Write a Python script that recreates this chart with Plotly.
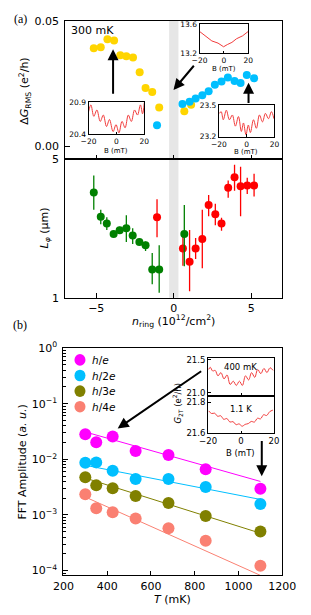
import math
import plotly.graph_objects as go

# ---------------- panel (a), top: Delta G_RMS vs n_ring ----------------
n_yellow = [-5.16, -4.71, -4.28, -3.85, -3.45, -3.06, -2.63, -2.20, -1.82, -1.39, -0.94, 0.68, 1.12]
dg_yellow = [0.0391, 0.0395, 0.0426, 0.0421, 0.0363, 0.0359, 0.0354, 0.0295, 0.0233, 0.0217, 0.0155, 0.0140, 0.0166]
n_cyan = [-1.08, 0.56, 1.02, 1.41, 1.84, 2.25, 2.65, 3.08, 3.49, 3.92, 4.31, 4.71, 5.18]
dg_cyan = [0.0085, 0.0169, 0.0178, 0.0191, 0.0204, 0.0220, 0.0246, 0.0259, 0.0274, 0.0261, 0.0253, 0.0284, 0.0271]

# ---------------- panel (a), bottom: L_phi vs n_ring ----------------
n_green = [-5.16, -4.71, -4.32, -3.88, -3.49, -3.06, -2.65, -2.22, -1.82, -1.39, -0.94, 0.68]
L_green = [3.40, 2.56, 2.37, 2.10, 2.19, 2.24, 2.06, 1.91, 1.84, 1.39, 1.39, 2.10]
L_green_hi = [4.14, 2.78, 2.55, 2.15, 2.28, 2.61, 2.24, 1.95, 1.92, 1.68, 1.84, 2.94]
L_green_lo = [2.78, 2.35, 2.20, 2.05, 2.10, 1.91, 1.87, 1.87, 1.72, 1.17, 1.06, 1.44]
n_red = [-1.08, 0.59, 1.02, 1.41, 1.84, 2.25, 2.68, 3.08, 3.51, 3.92, 4.31, 4.74, 5.18]
L_red = [2.55, 1.77, 1.52, 1.77, 1.98, 2.94, 2.64, 2.37, 3.59, 4.06, 3.65, 3.68, 3.68]
L_red_hi = [3.14, 2.16, 2.20, 2.00, 2.78, 3.30, 2.98, 2.53, 3.91, 4.69, 4.58, 4.03, 4.22]
L_red_lo = [2.02, 1.45, 1.08, 1.57, 1.41, 2.58, 2.32, 2.18, 3.20, 3.47, 2.58, 3.34, 3.24]

# ---------------- panel (b): FFT amplitude vs T ----------------
T_mK = [300, 350, 425, 530, 680, 850, 1100]
amp_he = [0.0283, 0.0203, 0.0258, 0.0141, 0.0120, 0.00663, 0.00296]
amp_h2e = [0.00869, 0.0088, 0.00621, 0.00443, 0.00443, 0.00317, 0.00158]
amp_h3e = [0.00474, 0.0034, 0.00301, 0.0022, 0.00164, 0.000957, 0.000502]
amp_h4e = [0.00236, 0.00132, 0.00112, 0.00086, 0.000575, 0.000345, 0.000122]
T_fit = [300, 1100]
fit_he = [0.031, 0.0040]
fit_h2e = [0.0078, 0.0019]
fit_h3e = [0.0046, 0.00047]
fit_h4e = [0.0021, 0.000082]
series_names = ["<i>h</i>/<i>e</i>", "<i>h</i>/2<i>e</i>", "<i>h</i>/3<i>e</i>", "<i>h</i>/4<i>e</i>"]
series_colors = ["#FF00FF", "#00BFFF", "#808000", "#FA8072"]
amp_ticks = [1e-4, 1e-3, 1e-2, 1e-1, 1]
amp_ticktext = ["10<sup>−4</sup>", "10<sup>−3</sup>", "10<sup>−2</sup>", "10<sup>−1</sup>", "10<sup>0</sup>"]

# ---------------- insets (magnetoconductance traces) ----------------
ins1_B = [-20, -18.3, -16.2, -14, -11.6, -9.4, -7.1, -5, -2.4, -0.3, 1.8, 4, 6.2, 8.5, 10.7, 13, 15.1, 17.2, 18.7, 20]
ins1_G = [20.75, 20.86, 20.68, 20.78, 20.60, 20.70, 20.52, 20.63, 20.44, 20.55, 20.42, 20.60, 20.50, 20.70, 20.60, 20.78, 20.70, 20.86, 20.72, 20.90]
ins2_B = [-20, -14.9, -9.9, -4.8, -0.25, 2.8, 6.6, 10.4, 15.4, 20]
ins2_G = [13.50, 13.44, 13.37, 13.34, 13.29, 13.32, 13.35, 13.40, 13.44, 13.50]
ins3_B = [-19.6, -18.3, -16.8, -14.6, -12.4, -10.3, -8.1, -5.9, -3.8, -2.3, -0.5, 1.2, 2.7, 4.9, 7.0, 9.2, 11.4, 13.5, 15.7, 17.8, 19.6]
ins3_G = [23.42, 23.436, 23.36, 23.45, 23.36, 23.405, 23.30, 23.39, 23.25, 23.33, 23.22, 23.31, 23.24, 23.36, 23.28, 23.405, 23.34, 23.42, 23.37, 23.436, 23.37]
ins4_B = [-19.6, -18.7, -17.2, -15.7, -14.0, -12.2, -10.3, -8.5, -6.6, -4.7, -2.9, -1.0, 0.8, 2.7, 4.6, 6.4, 8.3, 10.1, 12.0, 13.9, 15.7, 17.6, 19.4]
ins4_G = [21.354, 21.388, 21.33, 21.34, 21.257, 21.306, 21.21, 21.27, 21.125, 21.175, 21.11, 21.175, 21.11, 21.257, 21.194, 21.306, 21.233, 21.354, 21.29, 21.37, 21.306, 21.38, 21.34]
ins5_B = [-19.6, -17.9, -16.0, -14.2, -12.3, -10.5, -8.6, -6.7, -4.9, -3.0, -1.2, 0.7, 2.5, 4.4, 6.2, 8.1, 10.0, 11.8, 13.7, 15.5, 17.4, 19.3]
ins5_G = [21.745, 21.728, 21.73, 21.71, 21.713, 21.69, 21.695, 21.672, 21.675, 21.655, 21.66, 21.645, 21.657, 21.662, 21.676, 21.672, 21.697, 21.693, 21.72, 21.715, 21.74, 21.75]

W, H = 311, 615
FONT = "DejaVu Sans"


def px(x):
    return x / W


def py(y):
    return 1 - y / H


fig = go.Figure()

# panel (a) top
fig.add_trace(go.Scatter(x=n_yellow, y=dg_yellow, mode="markers", marker=dict(size=8, color="#FFD500"),
                         xaxis="x", yaxis="y"))
fig.add_trace(go.Scatter(x=n_cyan, y=dg_cyan, mode="markers", marker=dict(size=8, color="#00BFFF"),
                         xaxis="x", yaxis="y"))


def err(vals, hi, lo, color):
    return dict(type="data", symmetric=False,
                array=[h - v for h, v in zip(hi, vals)],
                arrayminus=[v - l for v, l in zip(vals, lo)],
                color=color, thickness=1.3, width=0)


fig.add_trace(go.Scatter(x=n_red, y=L_red, mode="markers", marker=dict(size=8, color="#FF0000"),
                         error_y=err(L_red, L_red_hi, L_red_lo, "#FF0000"), xaxis="x2", yaxis="y2"))
fig.add_trace(go.Scatter(x=n_green, y=L_green, mode="markers", marker=dict(size=8, color="#008000"),
                         error_y=err(L_green, L_green_hi, L_green_lo, "#008000"), xaxis="x2", yaxis="y2"))

# panel (b)
for fit, c in zip([fit_he, fit_h2e, fit_h3e, fit_h4e], series_colors):
    fig.add_trace(go.Scatter(x=T_fit, y=fit, mode="lines", line=dict(color=c, width=1),
                             xaxis="x3", yaxis="y3"))
for amp, c in zip([amp_he, amp_h2e, amp_h3e, amp_h4e], series_colors):
    fig.add_trace(go.Scatter(x=T_mK, y=amp, mode="markers", marker=dict(size=12, color=c),
                             xaxis="x3", yaxis="y3"))

# insets
RED = "#F03C3C"
fig.add_trace(go.Scatter(x=ins1_B, y=ins1_G, mode="lines", line=dict(color=RED, width=1, shape="spline"),
                         xaxis="x4", yaxis="y4"))
fig.add_trace(go.Scatter(x=ins2_B, y=ins2_G, mode="lines", line=dict(color=RED, width=1),
                         xaxis="x5", yaxis="y5"))
fig.add_trace(go.Scatter(x=ins3_B, y=ins3_G, mode="lines", line=dict(color=RED, width=1, shape="spline"),
                         xaxis="x6", yaxis="y6"))
fig.add_trace(go.Scatter(x=ins4_B, y=ins4_G, mode="lines", line=dict(color=RED, width=1, shape="spline"),
                         xaxis="x7", yaxis="y7"))
fig.add_trace(go.Scatter(x=ins5_B, y=ins5_G, mode="lines", line=dict(color=RED, width=1, shape="spline"),
                         xaxis="x8", yaxis="y8"))

main_ax = dict(showline=True, linecolor="black", linewidth=1, mirror=True, ticks="inside", ticklen=4.5,
               tickwidth=1, tickcolor="black", showgrid=False, zeroline=False,
               tickfont=dict(family=FONT, size=11, color="black"))
inset_ax = dict(showline=True, linecolor="black", linewidth=1, mirror=True, ticks="inside", ticklen=2.5,
                tickwidth=1, tickcolor="black", showgrid=False, zeroline=False,
                tickfont=dict(family=FONT, size=7.5, color="black"))
inset_b_ax = dict(inset_ax, tickfont=dict(family=FONT, size=8.5, color="black"))

minor_log = [m * 10 ** k for k in range(-5, 0) for m in range(2, 10)]

xa_dom = [px(59), px(295)]
layout_axes = dict(
    xaxis=dict(main_ax, domain=xa_dom, anchor="y", range=[-7, 7], tickvals=[-5, 0, 5], showticklabels=False),
    yaxis=dict(main_ax, domain=[py(155), py(13)], anchor="x", range=[-0.005, 0.05],
               tickvals=[0, 0.05], ticktext=["0.00", "0.05"], ticklabelstandoff=3),
    xaxis2=dict(main_ax, domain=xa_dom, anchor="y2", range=[-7, 7], tickvals=[-5, 0, 5]),
    yaxis2=dict(main_ax, domain=[py(297), py(155)], anchor="x2", type="log", range=[0, math.log10(5)],
                tickvals=[1, 5], ticktext=["1", "5"], ticklabelstandoff=3),
    xaxis3=dict(main_ax, domain=[px(57), px(295)], anchor="y3", range=[200, 1200],
                tickvals=[200, 400, 600, 800, 1000, 1200]),
    yaxis3=dict(main_ax, domain=[py(581.5), py(348.5)], anchor="x3", type="log", range=[-4.085, 0],
                tickvals=amp_ticks, ticktext=amp_ticktext,
                minor=dict(tickvals=minor_log, ticks="inside", ticklen=2.5, tickwidth=0.8,
                           tickcolor="black", showgrid=False),
                ticklabelstandoff=3),
    xaxis4=dict(inset_ax, domain=[px(84.3), px(145)], anchor="y4", range=[-20, 20], tickvals=[-20, 0, 20]),
    yaxis4=dict(inset_ax, domain=[py(129.3), py(96.7)], anchor="x4", range=[20.4, 20.9], tickvals=[20.4, 20.9]),
    xaxis5=dict(inset_ax, domain=[px(205), px(258)], anchor="y5", range=[-20, 20], tickvals=[-20, 0, 20]),
    yaxis5=dict(inset_ax, domain=[py(46.5), py(16.5)], anchor="x5", range=[13.2, 13.6], tickvals=[13.2, 13.6]),
    xaxis6=dict(inset_ax, domain=[px(226), px(286.5)], anchor="y6", range=[-20, 20], tickvals=[-20, 0, 20]),
    yaxis6=dict(inset_ax, domain=[py(132), py(99.3)], anchor="x6", range=[23.2, 23.5], tickvals=[23.2, 23.5]),
    xaxis7=dict(inset_b_ax, domain=[px(214.3), px(286)], anchor="y7", range=[-20, 20], tickvals=[-20, 0, 20],
                showticklabels=False),
    yaxis7=dict(inset_b_ax, domain=[py(397.3), py(359)], anchor="x7", range=[20.955, 21.525],
                tickvals=[21.0, 21.5], ticktext=["21.0", "21.5"]),
    xaxis8=dict(inset_b_ax, domain=[px(214.3), px(286)], anchor="y8", range=[-20, 20], tickvals=[-20, 0, 20]),
    yaxis8=dict(inset_b_ax, domain=[py(435.7), py(397.3)], anchor="x8", range=[21.6, 21.845],
                tickvals=[21.6, 21.8], ticktext=["21.6", "21.8"]),
)

ann = []


def text(x, y, s, size, angle=0, xanchor="center", family=FONT):
    ann.append(dict(x=px(x), y=py(y), xref="paper", yref="paper", text=s, showarrow=False,
                    font=dict(family=family, size=size, color="black"), textangle=angle,
                    xanchor=xanchor, yanchor="middle"))


def arrow(xt, yt, xh, yh):
    ann.append(dict(x=px(xh), y=py(yh), xref="paper", yref="paper", ax=xt - xh, ay=yt - yh,
                    axref="pixel", ayref="pixel", showarrow=True, arrowhead=2, arrowsize=1.1,
                    arrowwidth=2, arrowcolor="black", text=""))


text(10, 11, "(a)", 12, family="Liberation Serif")
text(10, 325, "(b)", 12, family="Liberation Serif")
text(63, 23, "300 mK", 11, xanchor="left")
text(15, 85, "Δ<i>G</i><sub>RMS</sub> (e<sup>2</sup>/h)", 11, angle=-90)
text(37, 226, "<i>L</i><sub><i>φ</i></sub> (μm)", 11, angle=-90)
text(177, 321, "<i>n</i><sub>ring</sub> (10<sup>12</sup>/cm<sup>2</sup>)", 11)
text(13, 465, "FFT Amplitude (<i>a. u.</i>)", 11, angle=-90)
text(176, 606, "<i>T</i> (mK)", 11)
text(114.7, 146.5, "B (mT)", 7)
text(231.5, 62.5, "B (mT)", 7)
text(256, 148, "B (mT)", 7)
text(250, 456, "B (mT)", 8.5)
text(181, 405, "<i>G</i><sub>2T</sub> (e<sup>2</sup>/h)", 8.5, angle=-90)
text(250, 367.5, "400 mK", 8.5)
text(250, 411, "1.1 K", 8.5)

arrow(111, 88.3, 111, 42.3)
arrow(198.3, 58.3, 176.7, 84)
arrow(258.3, 98.3, 258.3, 76.7)
arrow(201, 372.7, 116, 431)
arrow(272.7, 443.3, 272.7, 480)

# gray band at charge neutrality + hand-drawn legend for panel (b)
shapes = [dict(type="rect", xref="x", yref="paper", x0=-0.3, x1=0.3, y0=py(297), y1=py(13),
               fillcolor="#E6E6E6", line=dict(width=0), layer="below")]
leg_y = [360.7, 376.7, 392.7, 408.7]
for name, c, yy in zip(series_names, series_colors, leg_y):
    r = 6
    shapes.append(dict(type="circle", xref="paper", yref="paper", x0=px(75 - r), x1=px(75 + r),
                       y0=py(yy + r), y1=py(yy - r), fillcolor=c, line=dict(width=0)))
    text(86, yy, name, 10.5, xanchor="left")

fig.update_layout(
    width=W, height=H, autosize=False,
    margin=dict(l=0, r=0, t=0, b=0),
    paper_bgcolor="white", plot_bgcolor="rgba(0,0,0,0)",
    showlegend=False,
    font=dict(family=FONT, size=11, color="black"),
    annotations=ann, shapes=shapes,
    **layout_axes,
)

fig.write_html("out.html", config={"displayModeBar": False},
               post_script="document.body.style.margin='0';")
